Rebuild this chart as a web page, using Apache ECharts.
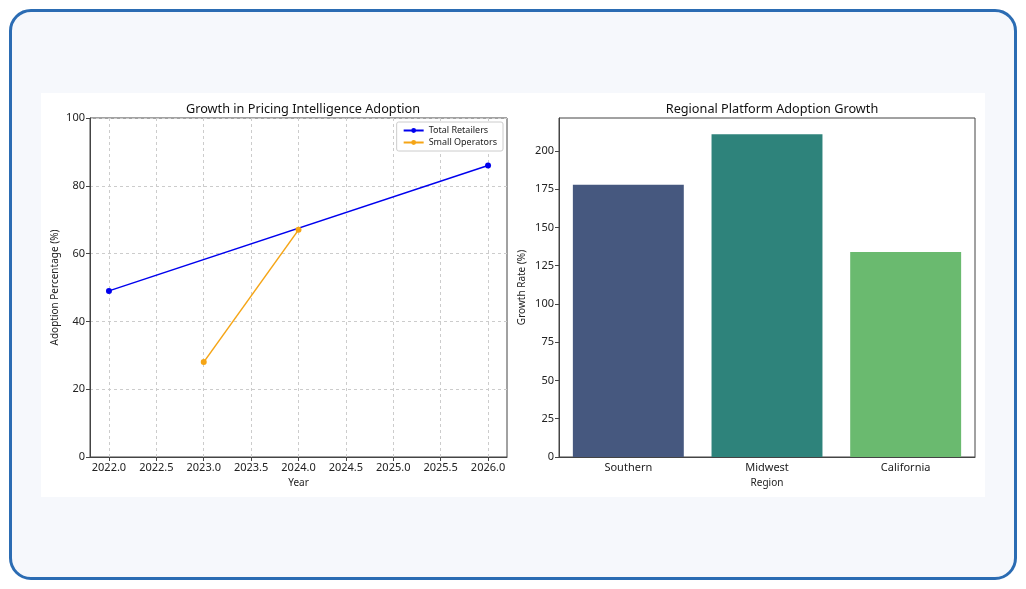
<!DOCTYPE html>
<html>
<head>
<meta charset="utf-8">
<script src="https://cdn.jsdelivr.net/npm/echarts@6/dist/echarts.min.js"></script>
<style>
  html, body { margin: 0; padding: 0; background: #ffffff; }
  .frame {
    position: absolute; left: 9px; top: 9px; width: 1002px; height: 565px;
    border: 3px solid #2b6cb3; border-radius: 22px; background: #f6f8fc;
  }
  #chart {
    position: absolute; left: 41px; top: 93px; width: 944px; height: 404px;
    background: #ffffff;
  }
</style>
</head>
<body>
<div class="frame"></div>
<div id="chart"></div>
<script>
// line chart data
const years = [2022, 2022.5, 2023, 2023.5, 2024, 2024.5, 2025, 2025.5, 2026];
const totalRetailers = [[2022, 49], [2026, 86]];
const smallOperators = [[2023, 28], [2024, 67]];
const pctTicks = [0, 20, 40, 60, 80, 100];

// bar chart data
const regions = ['Southern', 'Midwest', 'California'];
const growthRate = [178, 211, 134];
const regionColors = ['#46587f', '#2e837b', '#6aba6f'];
const growthTicks = [0, 25, 50, 75, 100, 125, 150, 175, 200];

const FONT = '"Noto Sans", sans-serif';
const axisColor = '#444';
const labelStyle = { color: '#222', fontSize: 11, fontFamily: FONT };

const chart = echarts.init(document.getElementById('chart'));

chart.setOption({
    animation: false,
    title: [
        { text: 'Growth in Pricing Intelligence Adoption', left: 257, top: 5, textAlign: 'center',
          textStyle: { fontSize: 12.7, fontWeight: 'normal', color: '#111', fontFamily: FONT } },
        { text: 'Regional Platform Adoption Growth', left: 726, top: 5, textAlign: 'center',
          textStyle: { fontSize: 12.7, fontWeight: 'normal', color: '#111', fontFamily: FONT } }
    ],
    legend: {
        data: ['Total Retailers', 'Small Operators'],
        orient: 'vertical',
        right: 482, top: 29,
        padding: [4, 6],
        itemGap: 3,
        itemWidth: 20, itemHeight: 6,
        borderColor: '#cccccc', borderWidth: 1, borderRadius: 2,
        backgroundColor: '#ffffff',
        textStyle: { fontSize: 9, color: '#222', fontFamily: FONT }
    },
    grid: [
        { left: 49, top: 25, width: 417, height: 339, show: true, borderColor: axisColor, borderWidth: 1 },
        { left: 518, top: 25, width: 416, height: 339, show: true, borderColor: axisColor, borderWidth: 1 }
    ],
    xAxis: [
        {
            type: 'value', gridIndex: 0, min: 2021.8, max: 2026.2,
            name: 'Year', nameLocation: 'middle', nameGap: 20,
            nameTextStyle: { fontSize: 10, color: '#222', fontFamily: FONT },
            axisLine: { lineStyle: { color: axisColor } },
            axisTick: { length: 4, lineStyle: { color: axisColor }, customValues: years },
            axisLabel: Object.assign({ customValues: years, margin: 5,
                formatter: v => v.toFixed(1) }, labelStyle),
            splitLine: { show: true, lineStyle: { color: '#cccccc', type: [3, 3] } }
        },
        {
            type: 'category', gridIndex: 1, data: regions,
            name: 'Region', nameLocation: 'middle', nameGap: 20,
            nameTextStyle: { fontSize: 10, color: '#222', fontFamily: FONT },
            axisLine: { lineStyle: { color: axisColor } },
            axisTick: { alignWithLabel: true, length: 4, lineStyle: { color: axisColor } },
            axisLabel: Object.assign({ margin: 5 }, labelStyle)
        }
    ],
    yAxis: [
        {
            type: 'value', gridIndex: 0, min: 0, max: 100, interval: 20,
            name: 'Adoption Percentage (%)', nameLocation: 'middle', nameGap: 30,
            nameTextStyle: { fontSize: 10, color: '#222', fontFamily: FONT },
            axisLine: { show: true, lineStyle: { color: axisColor } },
            axisTick: { show: true, length: 4, lineStyle: { color: axisColor } },
            axisLabel: Object.assign({ margin: 5 }, labelStyle),
            splitLine: { show: true, lineStyle: { color: '#cccccc', type: [3, 3] } }
        },
        {
            type: 'value', gridIndex: 1, min: 0, max: 221.55,
            name: 'Growth Rate (%)', nameLocation: 'middle', nameGap: 32,
            nameTextStyle: { fontSize: 10, color: '#222', fontFamily: FONT },
            axisLine: { show: true, lineStyle: { color: axisColor } },
            axisTick: { show: true, length: 4, lineStyle: { color: axisColor }, customValues: growthTicks },
            axisLabel: Object.assign({ margin: 5, customValues: growthTicks }, labelStyle),
            splitLine: { show: false }
        }
    ],
    series: [
        {
            name: 'Total Retailers', type: 'line', xAxisIndex: 0, yAxisIndex: 0,
            data: totalRetailers, symbol: 'circle', symbolSize: 6,
            lineStyle: { color: '#0000ee', width: 1.5 }, itemStyle: { color: '#0000ee' }
        },
        {
            name: 'Small Operators', type: 'line', xAxisIndex: 0, yAxisIndex: 0,
            data: smallOperators, symbol: 'circle', symbolSize: 6,
            lineStyle: { color: '#f5a516', width: 1.5 }, itemStyle: { color: '#f5a516' }
        },
        {
            name: 'Growth', type: 'bar', xAxisIndex: 1, yAxisIndex: 1,
            barWidth: '80%',
            data: growthRate.map((v, i) => ({ value: v, itemStyle: { color: regionColors[i] } }))
        }
    ]
});
</script>
</body>
</html>
